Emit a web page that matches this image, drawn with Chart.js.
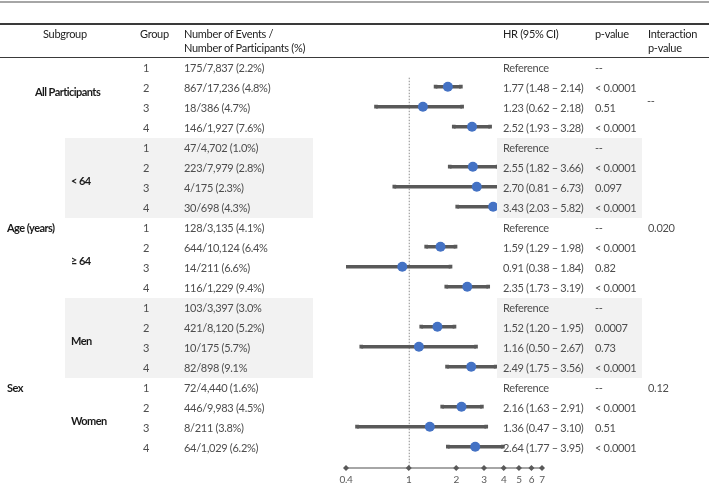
<!DOCTYPE html>
<html>
<head>
<meta charset="utf-8">
<script src="https://cdn.jsdelivr.net/npm/chart.js@4/dist/chart.umd.min.js"></script>
<style>
  body { margin: 0; background: #fff; }
  #wrap { position: relative; width: 709px; height: 496px; overflow: hidden; font-family: Lato, "Noto Sans", sans-serif; font-size: 11px; letter-spacing: -0.3px; color: #4d4d4d; }
  #wrap canvas { position: absolute; left: 0; top: 0; }
  .t { position: absolute; white-space: nowrap; transform: translateY(-50%); line-height: 1; z-index: 2; }
  .h { color: #222; }
  .b { color: #1a1a1a; font-weight: 700; letter-spacing: -0.55px; }
  .shade { position: absolute; background: #f2f2f2; z-index: 1; }
  .rule { position: absolute; left: 0; width: 709px; }
</style>
</head>
<body>
<div id="wrap">
  <canvas id="forest" width="709" height="496"></canvas>
</div>
<script>
// rows: 4 groups for each subgroup, top to bottom
const groups = [1, 2, 3, 4, 1, 2, 3, 4, 1, 2, 3, 4, 1, 2, 3, 4, 1, 2, 3, 4];
const eventsText = [
  '175/7,837 (2.2%)', '867/17,236 (4.8%)', '18/386 (4.7%)', '146/1,927 (7.6%)',
  '47/4,702 (1.0%)', '223/7,979 (2.8%)', '4/175 (2.3%)', '30/698 (4.3%)',
  '128/3,135 (4.1%)', '644/10,124 (6.4%', '14/211 (6.6%)', '116/1,229 (9.4%)',
  '103/3,397 (3.0%', '421/8,120 (5.2%)', '10/175 (5.7%)', '82/898 (9.1%',
  '72/4,440 (1.6%)', '446/9,983 (4.5%)', '8/211 (3.8%)', '64/1,029 (6.2%)'
];
const hr = [null, 1.77, 1.23, 2.52, null, 2.55, 2.70, 3.43, null, 1.59, 0.91, 2.35, null, 1.52, 1.16, 2.49, null, 2.16, 1.36, 2.64];
const ciLow = [null, 1.48, 0.62, 1.93, null, 1.82, 0.81, 2.03, null, 1.29, 0.38, 1.73, null, 1.20, 0.50, 1.75, null, 1.63, 0.47, 1.77];
const ciHigh = [null, 2.14, 2.18, 3.28, null, 3.66, 6.73, 5.82, null, 1.98, 1.84, 3.19, null, 1.95, 2.67, 3.56, null, 2.91, 3.10, 3.95];
const pValues = [
  '--', '< 0.0001', '0.51', '< 0.0001',
  '--', '< 0.0001', '0.097', '< 0.0001',
  '--', '< 0.0001', '0.82', '< 0.0001',
  '--', '0.0007', '0.73', '< 0.0001',
  '--', '< 0.0001', '0.51', '< 0.0001'
];
const interactionP = ['--', '0.020', '0.12'];
const axisTicks = [0.4, 1, 2, 3, 4, 5, 6, 7];

const wrap = document.getElementById('wrap');
const ROW0 = 66.7, ROWH = 20;
const rowY = i => ROW0 + ROWH * i;

function txt(s, x, y, cls) {
  const d = document.createElement('div');
  d.className = 't ' + (cls || '');
  d.style.left = x + 'px';
  d.style.top = y + 'px';
  d.textContent = s;
  wrap.appendChild(d);
  return d;
}
function box(cls, x, y, w, h, bg) {
  const d = document.createElement('div');
  d.className = cls;
  d.style.left = x + 'px'; d.style.top = y + 'px';
  d.style.width = w + 'px'; d.style.height = h + 'px';
  if (bg) d.style.background = bg;
  wrap.appendChild(d);
}

// horizontal rules
box('rule', 0, 1, 709, 2, '#a6a6a6');
box('rule', 0, 22.5, 709, 2, '#3a3a3a');
box('rule', 0, 56.5, 709, 1.5, '#3a3a3a');

// shaded bands (<64 and Men), the right one sits over the plot
[4, 12].forEach(r => {
  const top = rowY(r) - 9.2;
  box('shade', 65, top, 248, 80);
  box('shade', 497, top, 145, 80);
});

// header
txt('Subgroup', 43, 33, 'h');
txt('Group', 140, 33, 'h');
txt('Number of Events /', 184, 33, 'h');
txt('Number of Participants (%)', 184, 47, 'h');
txt('HR (95% CI)', 503, 33, 'h');
txt('p-value', 595, 33, 'h');
txt('Interaction', 648, 33, 'h');
txt('p-value', 648, 47, 'h');

// subgroup labels
txt('All Participants', 35, 91, 'b');
txt('Age (years)', 7, 227, 'b');
txt('< 64', 71, 180, 'b');
txt('\u2265 64', 71, 260, 'b');
txt('Sex', 7, 387, 'b');
txt('Men', 71, 340, 'b');
txt('Women', 71, 420, 'b');

// table body
const fmt = v => v.toFixed(2);
groups.forEach((g, i) => {
  const y = rowY(i);
  txt(String(g), 143, y);
  txt(eventsText[i], 184, y);
  txt(hr[i] == null ? 'Reference' : fmt(hr[i]) + ' (' + fmt(ciLow[i]) + ' \u2013 ' + fmt(ciHigh[i]) + ')', 503, y);
  txt(pValues[i], 595, y);
});
txt(interactionP[0], 647, 100);
txt(interactionP[1], 648, rowY(8));
txt(interactionP[2], 648, rowY(16));

// datasets
const ciSets = [];
hr.forEach((v, i) => {
  if (v == null) return;
  ciSets.push({
    type: 'scatter',
    data: [{ x: ciLow[i], y: i }, { x: ciHigh[i], y: i }],
    showLine: true,
    borderColor: '#595959',
    borderWidth: 3.5,
    pointStyle: 'rect',
    pointRadius: 2.6,
    pointBackgroundColor: '#595959',
    pointBorderWidth: 0,
    order: 2
  });
});
const pointSet = {
  type: 'scatter',
  data: hr.map((v, i) => v == null ? null : { x: v, y: i }).filter(p => p),
  pointRadius: 5,
  pointBackgroundColor: '#4472c4',
  pointBorderWidth: 0,
  order: 1
};

const refAxis = {
  id: 'refAxis',
  beforeDatasetsDraw(chart) {
    const { ctx, scales: { x, y } } = chart;
    const x1 = x.getPixelForValue(1);
    ctx.save();
    ctx.strokeStyle = '#8c8c8c';
    ctx.lineWidth = 1;
    ctx.setLineDash([1.5, 1.5]);
    ctx.beginPath();
    ctx.moveTo(x1 + 0.5, y.getPixelForValue(0.55));
    ctx.lineTo(x1 + 0.5, y.getPixelForValue(20.07));
    ctx.stroke();
    ctx.restore();
  },
  afterDraw(chart) {
    const { ctx, scales: { x, y } } = chart;
    const ay = Math.round(y.getPixelForValue(20.07));
    ctx.save();
    ctx.strokeStyle = '#a6a6a6';
    ctx.lineWidth = 2;
    ctx.beginPath();
    ctx.moveTo(x.getPixelForValue(axisTicks[0]), ay);
    ctx.lineTo(x.getPixelForValue(axisTicks[axisTicks.length - 1]), ay);
    ctx.stroke();
    ctx.fillStyle = '#595959';
    ctx.font = '10px Lato, "Noto Sans", sans-serif';
    ctx.textAlign = 'center';
    ctx.textBaseline = 'middle';
    axisTicks.forEach(t => {
      const px = x.getPixelForValue(t);
      ctx.beginPath();
      ctx.moveTo(px, ay - 3); ctx.lineTo(px + 3, ay); ctx.lineTo(px, ay + 3); ctx.lineTo(px - 3, ay);
      ctx.closePath();
      ctx.fill();
      ctx.fillText(String(t), px, ay + 12);
    });
    ctx.restore();
  }
};

new Chart(document.getElementById('forest'), {
  data: { datasets: [...ciSets, pointSet] },
  options: {
    responsive: false,
    animation: false,
    layout: { padding: { left: 346, right: 167, top: 56.7, bottom: 496 - 476.7 } },
    plugins: { legend: { display: false }, tooltip: { enabled: false } },
    scales: {
      x: { type: 'logarithmic', min: 0.4, max: 7, display: false },
      y: { type: 'linear', min: -0.5, max: 20.5, reverse: true, display: false }
    }
  },
  plugins: [refAxis]
});
</script>
</body>
</html>
